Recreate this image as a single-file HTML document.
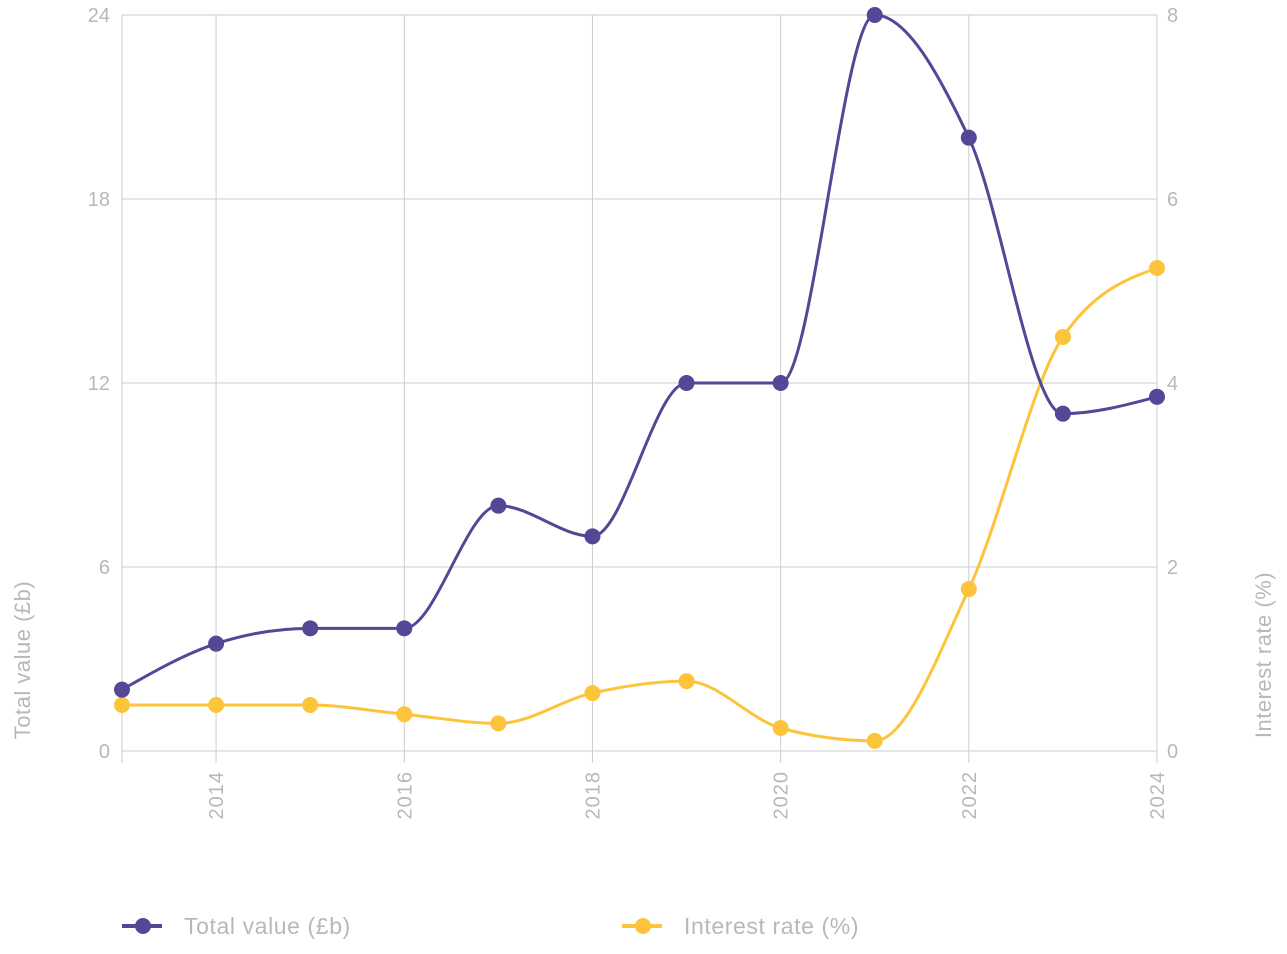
<!DOCTYPE html>
<html><head><meta charset="utf-8"><style>
body{margin:0;background:#fff;width:1287px;height:949px;overflow:hidden;font-family:"Liberation Sans",sans-serif}
text{font-family:"Liberation Sans",sans-serif;fill:#b8b8b8}
</style></head><body>
<svg id="c" width="1287" height="949"></svg>
<script>
const years=[2013,2014,2015,2016,2017,2018,2019,2020,2021,2022,2023,2024];
const totalValue=[2.0,3.5,4.0,4.0,8.0,7.0,12.0,12.0,24.0,20.0,11.0,11.55];
const interestRate=[0.5,0.5,0.5,0.4,0.3,0.63,0.76,0.25,0.11,1.76,4.5,5.25];
const leftTicks=[0,6,12,18,24];
const rightTicks=[0,2,4,6,8];
const xTickYears=[2014,2016,2018,2020,2022,2024];

const NS="http://www.w3.org/2000/svg";
const svg=document.getElementById('c');
const X0=122,X1=1157,YT=15,YB=751;
const x=y=>X0+(y-2013)/(2024-2013)*(X1-X0);
const yL=v=>YB-v/24*(YB-YT);
const yR=v=>YB-v/8*(YB-YT);
function el(t,a,p){const e=document.createElementNS(NS,t);for(const k in a)e.setAttribute(k,a[k]);(p||svg).appendChild(e);return e;}

const grid=el('g',{});


leftTicks.forEach(v=>{const l=el('line',{x1:X0,x2:X1,y1:yL(v),y2:yL(v),stroke:'#cccccc','stroke-width':1},grid);

});
[2013].concat(xTickYears).forEach(yr=>{const l=el('line',{x1:x(yr),x2:x(yr),y1:YT,y2:YB+12,stroke:'#cccccc','stroke-width':1},grid);

});

leftTicks.forEach(v=>{const t=el('text',{x:110,y:yL(v)+7,'text-anchor':'end','font-size':20});t.textContent=v;

});
rightTicks.forEach(v=>{const t=el('text',{x:1167,y:yR(v)+7,'text-anchor':'start','font-size':20});t.textContent=v;

});
xTickYears.forEach(yr=>{const t=el('text',{x:0,y:0,'text-anchor':'end','font-size':20,'letter-spacing':1,transform:`translate(${x(yr)+7},771) rotate(-90)`});t.textContent=yr;

});

let t=el('text',{x:0,y:0,'text-anchor':'middle','font-size':22,'letter-spacing':0.5,transform:'translate(30,660) rotate(-90)'});t.textContent='Total value (£b)';


t=el('text',{x:0,y:0,'text-anchor':'middle','font-size':22,'letter-spacing':0.5,transform:'translate(1271,655) rotate(-90)'});t.textContent='Interest rate (%)';



function monotone(px,py){
 const n=px.length,d=[],m=[];
 for(let i=0;i<n-1;i++)d.push((py[i+1]-py[i])/(px[i+1]-px[i]));
 for(let i=0;i<n;i++){
  if(i==0)m.push(d[0]);else if(i==n-1)m.push(d[n-2]);
  else{ if(d[i-1]*d[i]<=0)m.push(0);else{const h0=px[i]-px[i-1],h1=px[i+1]-px[i];
   const s=(d[i-1]*h1+d[i]*h0)/(h0+h1);m.push(Math.sign(s)*Math.min(Math.abs(s),2*Math.abs(d[i-1]),2*Math.abs(d[i])));}}
 }
 if(n>2){m[0]=(3*d[0]-m[1])/2; if(m[0]*d[0]<=0)m[0]=0; m[n-1]=(3*d[n-2]-m[n-2])/2; if(m[n-1]*d[n-2]<=0)m[n-1]=0;}
 let s=`M${px[0]},${py[0]}`;
 for(let i=0;i<n-1;i++){const h=(px[i+1]-px[i])/3;
  s+=`C${px[i]+h},${py[i]+m[i]*h} ${px[i+1]-h},${py[i+1]-m[i+1]*h} ${px[i+1]},${py[i+1]}`;}
 return s;
}
function series(vals,scale,color,name){
 const g=el('g',{});
 
 
 const px=years.map(x),py=vals.map(scale);
 const p=el('path',{d:monotone(px,py),fill:'none',stroke:color,'stroke-width':3},g);
 
 
 px.forEach((xx,i)=>{const c=el('circle',{cx:xx,cy:py[i],r:8,fill:color},g);
  
  });
}
series(interestRate,yR,'#fcc43a','interest-rate');
series(totalValue,yL,'#554696','total-value');

function legend(lx,color,label,name){
 const g=el('g',{});
 
 
 el('line',{x1:lx,x2:lx+40,y1:926,y2:926,stroke:color,'stroke-width':4},g);
 el('circle',{cx:lx+21,cy:926,r:8,fill:color},g);
 const tt=el('text',{x:lx+62,y:934,'font-size':23,'letter-spacing':0.6},g);tt.textContent=label;
}
legend(122,'#554696','Total value (£b)','total-value');
legend(622,'#fcc43a','Interest rate (%)','interest-rate');
</script>
</body></html>
